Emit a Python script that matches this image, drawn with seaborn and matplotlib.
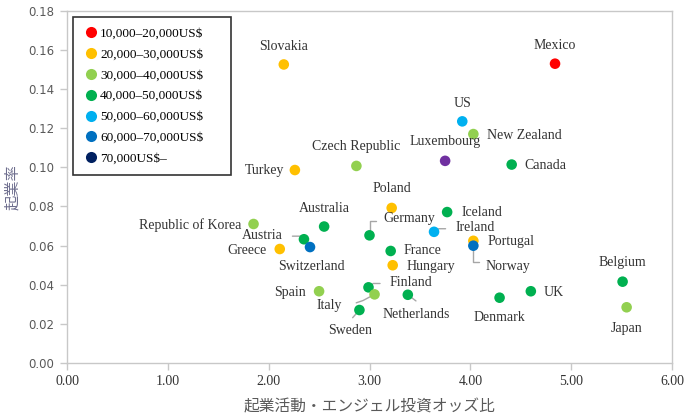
import numpy as np
import pandas as pd
import matplotlib
matplotlib.use("Agg")
import matplotlib.pyplot as plt
import seaborn as sns
from matplotlib.lines import Line2D

# -----------------------------
# data
# -----------------------------
countries = ["Mexico", "Slovakia", "US", "New Zealand", "Luxembourg", "Canada",
             "Czech Republic", "Turkey", "Poland", "Iceland", "Germany", "Ireland",
             "Portugal", "Norway", "Republic of Korea", "Australia", "Austria",
             "Switzerland", "Greece", "France", "Hungary", "Spain", "Finland",
             "Italy", "Netherlands", "Sweden", "Denmark", "UK", "Belgium", "Japan"]
odds_ratio = [4.84, 2.15, 3.92, 4.03, 3.75, 4.41,
              2.87, 2.26, 3.22, 3.77, 3.00, 3.64,
              4.03, 4.03, 1.85, 2.55, 2.35,
              2.41, 2.11, 3.21, 3.23, 2.50, 2.99,
              3.05, 3.38, 2.90, 4.29, 4.60, 5.51, 5.55]
startup_rate = [0.153, 0.1526, 0.1235, 0.117, 0.1033, 0.1014,
                0.1007, 0.0986, 0.0792, 0.0771, 0.0652, 0.0670,
                0.0624, 0.0599, 0.0710, 0.0697, 0.0632,
                0.0592, 0.0582, 0.0572, 0.0499, 0.0366, 0.0386,
                0.0350, 0.0348, 0.0270, 0.0333, 0.0366, 0.0415, 0.0284]
income_group = ["10,000–20,000US$", "20,000–30,000US$", "50,000–60,000US$",
                "30,000–40,000US$", "70,000US$–", "40,000–50,000US$",
                "30,000–40,000US$", "20,000–30,000US$", "20,000–30,000US$",
                "40,000–50,000US$", "40,000–50,000US$", "50,000–60,000US$",
                "20,000–30,000US$", "60,000–70,000US$", "30,000–40,000US$",
                "40,000–50,000US$", "40,000–50,000US$", "60,000–70,000US$",
                "20,000–30,000US$", "40,000–50,000US$", "20,000–30,000US$",
                "30,000–40,000US$", "40,000–50,000US$", "30,000–40,000US$",
                "40,000–50,000US$", "40,000–50,000US$", "40,000–50,000US$",
                "40,000–50,000US$", "40,000–50,000US$", "30,000–40,000US$"]
groups = ["10,000–20,000US$", "20,000–30,000US$", "30,000–40,000US$",
          "40,000–50,000US$", "50,000–60,000US$", "60,000–70,000US$", "70,000US$–"]

df = pd.DataFrame({"country": countries, "x": odds_ratio,
                   "y": startup_rate, "group": income_group})

# -----------------------------
# styles
# -----------------------------
group_colors = {
    "10,000–20,000US$": "#FF0000",
    "20,000–30,000US$": "#FFC000",
    "30,000–40,000US$": "#92D050",
    "40,000–50,000US$": "#00B050",
    "50,000–60,000US$": "#00B0F0",
    "60,000–70,000US$": "#0070C0",
    "70,000US$–": "#002060",
}
# Luxembourg is drawn purple in the original
point_colors = [("#7030A0" if c == "Luxembourg" else group_colors[g])
                for c, g in zip(df["country"], df["group"])]

# label offsets in pixels: (dx, dy, ha)
label_pos = {
    "Mexico": (0, 18, "center"),
    "Slovakia": (0, 18, "center"),
    "US": (0, 18, "center"),
    "New Zealand": (14, -1, "left"),
    "Luxembourg": (0, 19, "center"),
    "Canada": (13, -1, "left"),
    "Czech Republic": (0, 19, "center"),
    "Turkey": (-11, 0, "right"),
    "Poland": (0, 19, "center"),
    "Iceland": (14, 0, "left"),
    "Germany": (14, 17, "left"),
    "Ireland": (21, 4, "left"),
    "Portugal": (14, -1, "left"),
    "Norway": (12, -21, "left"),
    "Republic of Korea": (-12, -1, "right"),
    "Australia": (0, 18, "center"),
    "Austria": (-21, 4, "right"),
    "Switzerland": (1, -19, "center"),
    "Greece": (-13, -1, "right"),
    "France": (13, 0, "left"),
    "Hungary": (14, -1, "left"),
    "Spain": (-13, -1, "right"),
    "Finland": (21, 5, "left"),
    "Italy": (-33, -11, "right"),
    "Netherlands": (8, -20, "center"),
    "Sweden": (-9, -20, "center"),
    "Denmark": (0, -20, "center"),
    "UK": (13, -1, "left"),
    "Belgium": (0, 19, "center"),
    "Japan": (0, -21, "center"),
}

sns.set_theme(style="white")
plt.rcParams["font.family"] = ["Liberation Serif", "DejaVu Sans"]

fig = plt.figure(figsize=(6.88, 4.19), dpi=100)
ax = fig.add_axes([67 / 688, 1 - 362.8 / 419, 605 / 688, 351.9 / 419])

sns.scatterplot(data=df, x="x", y="y", c=point_colors, s=58,
                edgecolor="none", legend=False, ax=ax, zorder=3)

text_color = "#333333"
for c, px, py in zip(df["country"], df["x"], df["y"]):
    dx, dy, ha = label_pos[c]
    ax.annotate(c, (px, py), xytext=(dx, dy), textcoords="offset pixels",
                ha=ha, va="center", fontsize=10, color=text_color,
                family=["Liberation Serif", "DejaVu Sans"], zorder=4)

# leader lines (pixel offsets from the point)
leaders = {
    "Germany": [(0, 0), (0, 18), (9, 18)],
    "Ireland": [(0, 0), (7, 4), (17, 4)],
    "Norway": [(0, 0), (0, -21), (8, -21)],
    "Austria": [(0, 0), (-5, 4), (-17, 4)],
    "Finland": [(0, 0), (7, 5), (17, 5)],
    "Italy": [(0, 0), (-17, -8), (-27, -11)],
    "Netherlands": [(0, 0), (12, -8)],
    "Sweden": [(0, 0), (-10, -10)],
}
for c, pts in leaders.items():
    i = countries.index(c)
    base = ax.transData.transform((odds_ratio[i], startup_rate[i]))
    pix = np.array(pts) + base
    data_pts = ax.transData.inverted().transform(pix)
    ax.plot(data_pts[:, 0], data_pts[:, 1], color="#A6A6A6", lw=1, zorder=2)

# axes
ax.set_xlim(0, 6)
ax.set_ylim(0, 0.18)
ax.set_xticks(np.arange(0, 6.01, 1))
ax.set_yticks(np.arange(0, 0.181, 0.02))
ax.set_xticklabels([f"{v:.2f}" for v in np.arange(0, 6.01, 1)],
                   family=["Liberation Serif"], fontsize=10, color=text_color)
ax.set_yticklabels([f"{v:.2f}" for v in np.arange(0, 0.181, 0.02)],
                   family=["DejaVu Sans"], fontsize=8.5, color="#595959")
for s in ax.spines.values():
    s.set_color("#C8C8C8")
    s.set_linewidth(1)
ax.tick_params(axis="both", length=5, width=1, color="#C8C8C8", direction="out",
               left=True, bottom=True, pad=4)

ax.set_xlabel("起業活動・エンジェル投資オッズ比", fontsize=11.3, color="#595959",
              family=["Noto Sans CJK JP", "DejaVu Sans"], labelpad=7)
ax.set_ylabel("起業率", fontsize=11, color="#6E6E8E",
              family=["Noto Sans CJK JP", "DejaVu Sans"], labelpad=5)

# legend
handles = [Line2D([0], [0], marker="o", linestyle="", markersize=8,
                  markerfacecolor=group_colors[g], markeredgecolor="none", label=g)
           for g in groups]
leg = ax.legend(handles=handles, loc="upper left",
                bbox_to_anchor=(0.0099, 0.0, 0.262, 0.982), mode="expand",
                borderaxespad=0, frameon=True, fancybox=False, handletextpad=0.1,
                labelspacing=0.66, borderpad=0.75, handlelength=1.2,
                prop={"family": ["Liberation Serif"], "size": 9.5})
leg.get_frame().set_edgecolor("black")
leg.get_frame().set_linewidth(1.2)
for t in leg.get_texts():
    t.set_color("black")

plt.savefig("out.png", dpi=100)
